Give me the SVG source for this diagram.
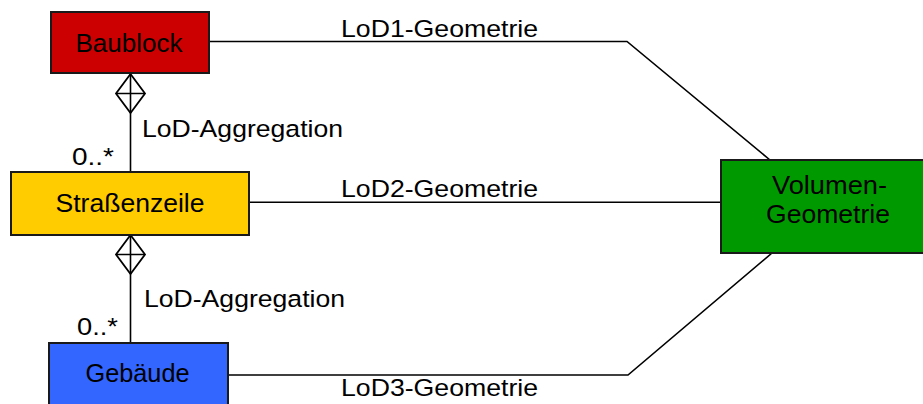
<svg xmlns="http://www.w3.org/2000/svg" width="923" height="404" viewBox="0 0 923 404">
  <style>
    .box { stroke: #1a1a1a; stroke-width: 2; }
    .name { font-family: "Liberation Sans", Arial, sans-serif; font-size: 25px; fill: #000; text-anchor: middle; }
    .lbl { font-family: "Liberation Sans", Arial, sans-serif; font-size: 24.5px; fill: #000; }
    .conn { fill: none; stroke: #000; stroke-width: 1.6; }
    .agg { fill: #fff; stroke: #000; stroke-width: 1.8; stroke-linejoin: miter; }
  </style>
  <rect width="923" height="404" fill="#fff"/>

  <!-- connectors -->
  <g id="connectors">
    <polyline class="conn" points="209,41.5 627,41.5 770,160"/>
    <line class="conn" x1="249" y1="202.3" x2="721" y2="202.3"/>
    <polyline class="conn" points="228,375 628,375 772,253"/>
    <line class="conn" x1="130.5" y1="112" x2="130.5" y2="172"/>
    <line class="conn" x1="130.5" y1="273" x2="130.5" y2="343"/>
    <!-- aggregation diamonds -->
    <path class="agg" d="M130.5,74 L145,93.5 L130.5,113 L116,93.5 Z"/>
    <path class="conn" d="M130.5,74 V113 M116,93.5 H145"/>
    <path class="agg" d="M130.5,235 L145,254.5 L130.5,274 L116,254.5 Z"/>
    <path class="conn" d="M130.5,235 V274 M116,254.5 H145"/>
    <text class="lbl" x="341" y="36.7" textLength="197" lengthAdjust="spacingAndGlyphs">LoD1-Geometrie</text>
    <text class="lbl" x="341" y="196.7" textLength="197" lengthAdjust="spacingAndGlyphs">LoD2-Geometrie</text>
    <text class="lbl" x="341" y="396" textLength="197" lengthAdjust="spacingAndGlyphs">LoD3-Geometrie</text>
    <text class="lbl" x="142" y="136.7" textLength="201" lengthAdjust="spacingAndGlyphs">LoD-Aggregation</text>
    <text class="lbl" x="144" y="306.7" textLength="201" lengthAdjust="spacingAndGlyphs">LoD-Aggregation</text>
    <text class="lbl" x="72" y="165" textLength="42" lengthAdjust="spacingAndGlyphs">0..*</text>
    <text class="lbl" x="77" y="335" textLength="41" lengthAdjust="spacingAndGlyphs">0..*</text>
  </g>

  <g id="baublock">
    <rect class="box" x="51" y="12" width="158" height="61" fill="#cc0000"/>
    <text class="name" x="129" y="51.7" textLength="107" lengthAdjust="spacingAndGlyphs">Baublock</text>
  </g>

  <g id="strassenzeile">
    <rect class="box" x="11" y="172" width="238" height="63" fill="#ffcc00"/>
    <text class="name" x="130" y="211.7" textLength="149" lengthAdjust="spacingAndGlyphs">Straßenzeile</text>
  </g>

  <g id="gebaeude">
    <rect class="box" x="49" y="343" width="179" height="64" fill="#3366ff"/>
    <text class="name" x="137.5" y="381.7" textLength="104" lengthAdjust="spacingAndGlyphs">Gebäude</text>
  </g>

  <g id="volumengeometrie">
    <rect class="box" x="721" y="160" width="214" height="93" fill="#009900"/>
    <text class="name" x="829.5" y="194" textLength="115" lengthAdjust="spacingAndGlyphs">Volumen-</text>
    <text class="name" x="828" y="223.3" textLength="124" lengthAdjust="spacingAndGlyphs">Geometrie</text>
  </g>
</svg>
